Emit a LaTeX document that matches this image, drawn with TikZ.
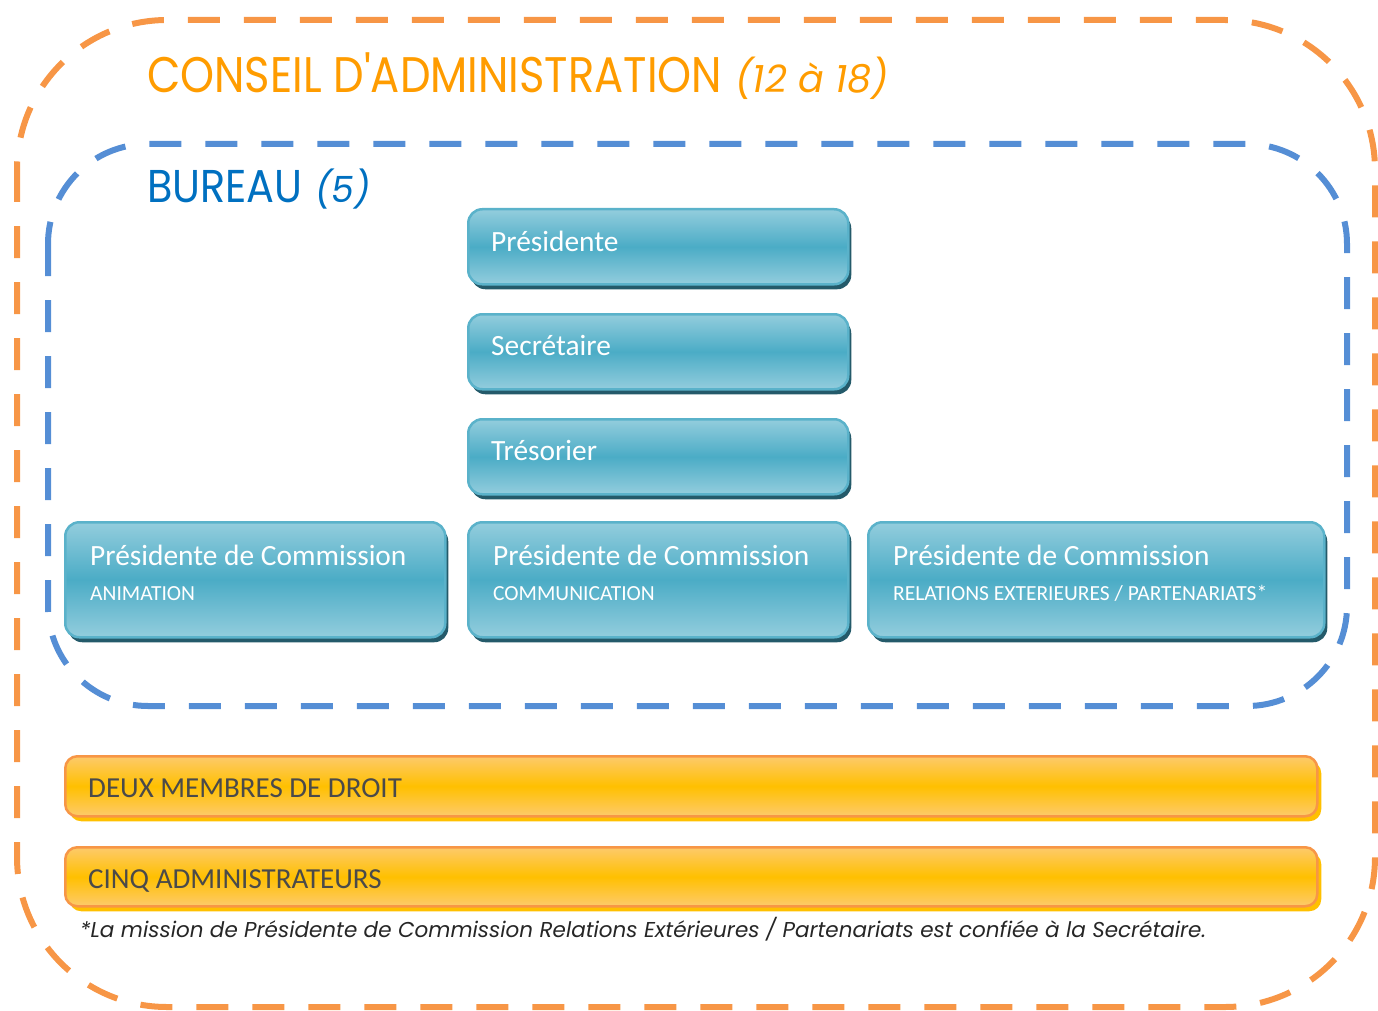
\documentclass[tikz,border=0pt]{standalone}
\usepackage{fontspec}
\setmainfont{Carlito}
\newfontfamily\gothic{Poppins}
\usetikzlibrary{shadows}
\definecolor{outerdash}{HTML}{F79646}
\definecolor{innerdash}{HTML}{558ED5}
\definecolor{titleorange}{HTML}{FF9C00}
\definecolor{bureaublue}{HTML}{0070C0}
\definecolor{tealtop}{HTML}{93CDDD}
\definecolor{tealmid}{HTML}{4BACC6}
\definecolor{tealborder}{HTML}{5AB2CA}
\definecolor{tealshadow}{HTML}{245A6A}
\definecolor{ortop}{HTML}{FDCA6B}
\definecolor{ormid}{HTML}{FFC000}
\definecolor{orborder}{HTML}{F79646}
\definecolor{graytext}{HTML}{4A4A4A}
\tikzset{
  bluebox/.style={rounded corners=14pt, draw=tealborder, line width=2.5pt,
    top color=tealtop, bottom color=tealtop, middle color=tealmid,
    drop shadow={shadow xshift=3pt, shadow yshift=-5pt, fill=tealshadow, opacity=1},
    anchor=north west, inner sep=0pt},
  orbox/.style={rounded corners=12pt, draw=orborder, line width=2.5pt,
    top color=ortop, bottom color=ortop, middle color=ormid,
    drop shadow={shadow xshift=4pt, shadow yshift=-5pt, fill=ormid, opacity=1},
    anchor=north west, inner sep=0pt},
  bigtxt/.style={anchor=base west, inner sep=0pt, text=white, font=\fontsize{29.4}{34}\selectfont},
  smalltxt/.style={anchor=base west, inner sep=0pt, text=white, font=\fontsize{21.5}{26}\selectfont},
  ortxt/.style={anchor=base west, inner sep=0pt, text=graytext, font=\fontsize{29}{34}\selectfont},
}
\begin{document}
\begin{tikzpicture}[x=1pt,y=-1pt]
\useasboundingbox (0,0) rectangle (1378,1011);
% outer dashed frame
\draw[outerdash, line width=6pt, dash pattern=on 32pt off 24pt, rounded corners=150pt]
  (17,20) rectangle (1375,1007);
% inner dashed frame
\draw[innerdash, line width=6pt, dash pattern=on 32pt off 24pt, rounded corners=100pt]
  (48,144) rectangle (1347,706);
% titles
\node[anchor=base west, inner sep=0pt, text=titleorange, font=\gothic\fontsize{50}{56}\selectfont] (title) at (147,93)
  {\scalebox{0.865}[1]{CONSEIL D'ADMINISTRATION} \itshape\fontsize{38}{44}\selectfont(12 à 18)};
\node[anchor=base west, inner sep=0pt, text=bureaublue, font=\gothic\fontsize{46}{52}\selectfont] (bureau) at (147,203)
  {\scalebox{0.9}[1]{BUREAU} \itshape\fontsize{36}{42}\selectfont(5)};
% bureau boxes
\node[bluebox, minimum width=380pt, minimum height=75pt] (pres) at (467,208) {};
\node[bigtxt] (prest) at (491,251) {Présidente};
\node[bluebox, minimum width=380pt, minimum height=75pt] (secr) at (467,313) {};
\node[bigtxt] (secrt) at (491,355) {Secrétaire};
\node[bluebox, minimum width=380pt, minimum height=75pt] (tres) at (467,418) {};
\node[bigtxt] (trest) at (491,460) {Trésorier};
% commissions
\node[bluebox, minimum width=380pt, minimum height=115pt] (anim) at (64,521) {};
\node[bigtxt] (animt) at (90,565) {Présidente de Commission};
\node[smalltxt] (anims) at (90,600) {ANIMATION};
\node[bluebox, minimum width=380pt, minimum height=115pt] (comm) at (467,521) {};
\node[bigtxt] (commt) at (493,565) {Présidente de Commission};
\node[smalltxt] (comms) at (493,600) {COMMUNICATION};
\node[bluebox, minimum width=456pt, minimum height=115pt] (rel) at (867,521) {};
\node[bigtxt] (relt) at (893,565) {Présidente de Commission};
\node[smalltxt] (rels) at (893,600) {RELATIONS EXTERIEURES / PARTENARIATS*};
% orange boxes
\node[orbox, minimum width=1252pt, minimum height=60pt] (droit) at (64,755) {};
\node[ortxt] (droitt) at (88,797) {DEUX MEMBRES DE DROIT};
\node[orbox, minimum width=1252pt, minimum height=59pt] (admin) at (64,846) {};
\node[ortxt] (admint) at (88,888) {CINQ ADMINISTRATEURS};
% footnote
\node[anchor=base west, inner sep=0pt, text=black!85, font=\gothic\itshape\fontsize{21.5}{26}\selectfont] (note) at (80,937)
  {*La mission de Présidente de Commission Relations Extérieures / Partenariats est confiée à la Secrétaire.};
\end{tikzpicture}
\end{document}
